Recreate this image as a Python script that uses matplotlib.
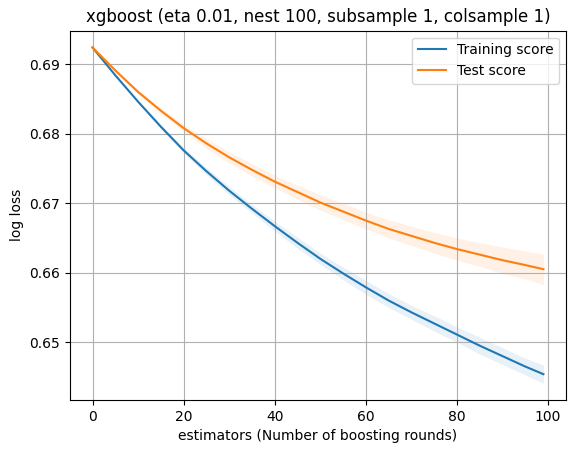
import matplotlib
matplotlib.use("Agg")
import matplotlib.pyplot as plt
import numpy as np

estimators = [0, 5, 10, 15, 20, 25, 30, 35, 40, 45, 50, 55, 60, 65, 70, 75, 80, 85, 90, 95, 99]
train_mean = [0.6924, 0.6884, 0.6846, 0.6810, 0.6776, 0.6746, 0.6718, 0.6692, 0.6667, 0.6643,
              0.6620, 0.6599, 0.6579, 0.6560, 0.6543, 0.6527, 0.6511, 0.6495, 0.6480, 0.6465, 0.6454]
train_std = [0.0000, 0.0001, 0.0002, 0.0003, 0.0004, 0.0005, 0.0006, 0.0006, 0.0007, 0.0008,
             0.0008, 0.0009, 0.0010, 0.0010, 0.0010, 0.0011, 0.0011, 0.0012, 0.0012, 0.0012, 0.0013]
test_mean = [0.6924, 0.6891, 0.6860, 0.6833, 0.6808, 0.6786, 0.6766, 0.6748, 0.6731, 0.6716,
             0.6701, 0.6688, 0.6675, 0.6663, 0.6653, 0.6643, 0.6634, 0.6626, 0.6618, 0.6611, 0.6605]
test_std = [0.0000, 0.0002, 0.0003, 0.0004, 0.0005, 0.0007, 0.0008, 0.0009, 0.0009, 0.0010,
            0.0011, 0.0012, 0.0012, 0.0013, 0.0014, 0.0015, 0.0016, 0.0017, 0.0019, 0.0020, 0.0022]

x = np.array(estimators)
tm, ts = np.array(train_mean), np.array(train_std)
vm, vs = np.array(test_mean), np.array(test_std)

fig = plt.figure(figsize=(5.76, 4.53), dpi=100)
ax = fig.add_axes([70/576, 1 - 400/453, (566-70)/576, (400-30.7)/453])

ax.fill_between(x, tm - ts, tm + ts, alpha=0.1, color="C0", linewidth=0)
ax.fill_between(x, vm - vs, vm + vs, alpha=0.1, color="C1", linewidth=0)
ax.plot(x, tm, color="C0", label="Training score")
ax.plot(x, vm, color="C1", label="Test score")

ax.set_title("xgboost (eta 0.01, nest 100, subsample 1, colsample 1)")
ax.set_xlabel("estimators (Number of boosting rounds)")
ax.set_ylabel("log loss")
ax.grid(True)
ax.legend(loc="upper right")

fig.savefig("out.png", dpi=100)
